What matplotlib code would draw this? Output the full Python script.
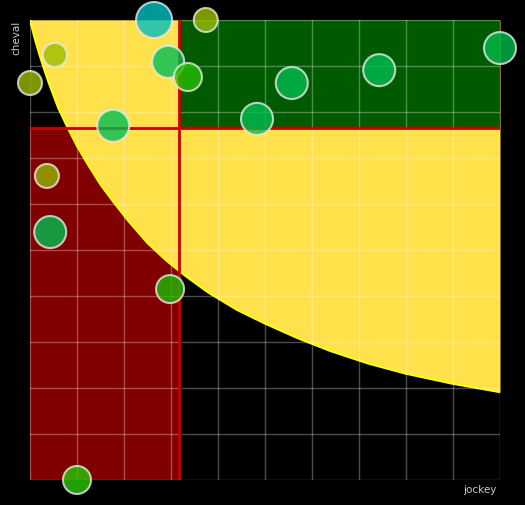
import matplotlib
matplotlib.use("Agg")
import matplotlib.pyplot as plt

# valeurs (echelle 0-100 sur les deux axes)
jockey = [26.4, 37.4, 5.3, 0.0, 29.4, 33.6, 17.7, 55.7, 74.3, 100.0, 48.3, 3.6, 4.3, 29.8, 10.0]
cheval = [100.0, 100.0, 92.4, 86.3, 90.9, 87.6, 77.0, 86.3, 89.1, 93.9, 78.5, 66.1, 53.9, 41.5, 0.0]
poids = [18, 12, 12, 12, 16, 14, 16, 16, 16, 16, 16, 12, 16, 14, 14]
couleurs = ["#00bfbf", "#9fbf00", "#9abd00", "#99bc00", "#00bd55", "#25be00", "#00bd55",
            "#00be50", "#00be50", "#00bc4b", "#00be50", "#96b600", "#00c050", "#1ebc00", "#28c800"]

# seuils
seuil_jockey = 31.7
seuil_cheval = 76.5

# frontiere de la zone jaune
courbe_x = [0, 1, 2, 3, 4, 6, 8, 10, 12, 15, 18, 21, 25, 29, 33, 38, 44, 50, 57, 64, 72, 80, 90, 100]
courbe_y = [100, 96, 92.5, 89.3, 86.3, 80.9, 76.6, 72.6, 69.1, 64.2, 60.1, 56.2, 51.5, 47.7,
            44.4, 40.7, 37.0, 34.0, 30.8, 28.0, 25.3, 23.1, 20.9, 19.1]

fig = plt.figure(figsize=(5.25, 5.05), dpi=100, facecolor="black")
ax = fig.add_axes([30/525, 25/505, 470/525, 460/505])
ax.set_facecolor("black")
ax.set_xlim(0, 100)
ax.set_ylim(0, 100)

ax.fill_between([0, seuil_jockey], 0, seuil_cheval, color="#800000", lw=0, zorder=1)
ax.fill_between(courbe_x, courbe_y, 100, color="#ffe14b", lw=0, zorder=2)
ax.plot(courbe_x, courbe_y, color="#ffff00", lw=1.5, zorder=2.5)
ax.fill_between([seuil_jockey, 100], seuil_cheval, 100, color="#005a00", lw=0, zorder=3)

for v in range(0, 101, 10):
    ax.axvline(v, color="white", alpha=0.3, lw=1, zorder=4)
    ax.axhline(v, color="white", alpha=0.3, lw=1, zorder=4)

ax.plot([seuil_jockey, seuil_jockey], [0, 100], color="#cc0000", lw=2, zorder=5)
ax.plot([0, 100], [seuil_cheval, seuil_cheval], color="#cc0000", lw=2, zorder=5)

tailles = [(2 * p * 0.72) ** 2 for p in poids]
ax.scatter(jockey, cheval, s=tailles, c=couleurs, alpha=0.8, edgecolors="#e8e8e8",
           linewidths=1.5, zorder=6, clip_on=False)

for s in ax.spines.values():
    s.set_visible(False)
ax.set_xticks([])
ax.set_yticks([])

fig.text(480/525, 1 - 490/505, "jockey", color="#cccccc", fontsize=7.5, ha="center", va="center")
fig.text(16/525, 1 - 38/505, "cheval", color="#cccccc", fontsize=7.5, rotation=90, ha="center", va="center")

fig.savefig("out.png", dpi=100, facecolor="black")
